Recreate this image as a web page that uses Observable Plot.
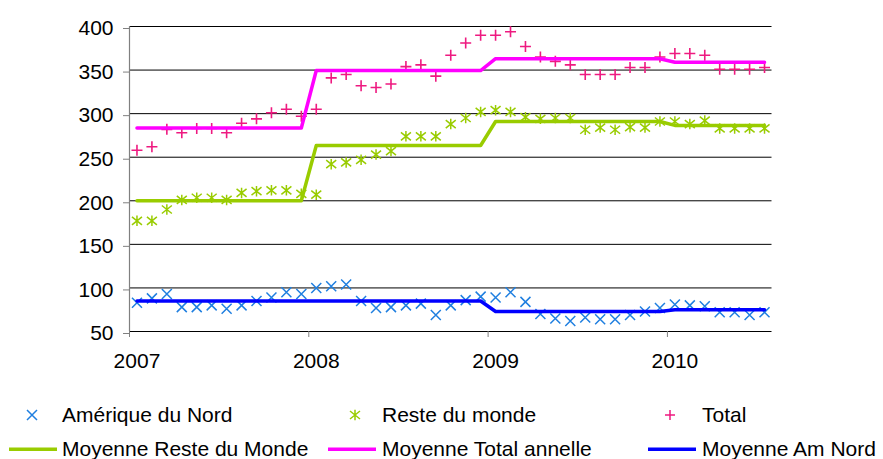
<!DOCTYPE html>
<html><head><meta charset="utf-8">
<script src="https://cdn.jsdelivr.net/npm/d3@7"></script>
<script src="https://cdn.jsdelivr.net/npm/@observablehq/plot@0.6"></script>
<style>
body{margin:0;background:#fff;font-family:"Liberation Sans",Arial,sans-serif;}
#wrap{position:relative;width:883px;height:459px;overflow:hidden;background:#fff;}
#legend{position:absolute;left:0;top:390px;}
</style></head><body><div id="wrap"><div id="chart"></div><div id="legend"></div></div>
<script>
const yearLabels = ["2007","2008","2009","2010"];
const yTicks = [50,100,150,200,250,300,350,400];

const ameriqueNord = [83,88,93,78,78,80,76,80,85,89,95,93,
  100,102,104,85,77,78,80,82,69,80,86,90,
  89,95,84,70,65,62,66,64,64,69,73,77,
  81,80,79,72,72,69,72];
const resteMonde = [177,177,190,201,203.5,203.5,201,209,211,212,212,208,
  207,242,244,247,253,257,274,274,274,288,295,302,
  304,302,296,294,295,295,281.5,284,281.5,284.5,284,291,
  291,288,292,283,283,283,283];
const total = [258,262,282,278,283,283,278,289,294,301,305,297,
  305,341,345,332,330,334,354,356,343,367,381,390,
  390,394,377,365,360,356,345,345,345,353,353,365,
  369,369,367,351,351,351,353];

const moyReste = [200,263.5,291,286.5];
const moyTotal = [283.5,349.5,363,359];
const moyAmNord = [85,85,73,75];

const data = ameriqueNord.map((v,i)=>({m:i+0.5, year:Math.floor(i/12), am:v, reste:resteMonde[i], total:total[i]}));

const cBlue = "#1f7fe0", cGreen = "#99cc00", cPink = "#ee1a80", cMag = "#ff00ff", cLineBlue = "#0000ff";

const symTimes = {draw(c,s){const r=Math.sqrt(s/Math.PI); c.moveTo(-r,-r);c.lineTo(r,r);c.moveTo(-r,r);c.lineTo(r,-r);}};
const symAst = {draw(c,s){const r=Math.sqrt(s/Math.PI); c.moveTo(-r,-r*0.8);c.lineTo(r,r*0.8);c.moveTo(-r,r*0.8);c.lineTo(r,-r*0.8);c.moveTo(0,-r*1.05);c.lineTo(0,r*1.05);}};
const symPlus = {draw(c,s){const r=Math.sqrt(s/Math.PI); c.moveTo(-r,0);c.lineTo(r,0);c.moveTo(0,-r);c.lineTo(0,r);}};

const chart = Plot.plot({
  width: 883, height: 390,
  marginLeft: 129, marginRight: 111.5, marginTop: 26, marginBottom: 59,
  x: {domain:[0,43], axis:null},
  y: {domain:[50,400], axis:null},
  style: {fontFamily:"'Liberation Sans', Arial, sans-serif", fontSize:"21px", color:"#000", background:"#fff", overflow:"visible"},
  marks: [
    Plot.ruleY(yTicks, {stroke:"#000", strokeWidth:1}),
    Plot.ruleX([0], {y1:50, y2:400, stroke:"#808080", strokeWidth:1.2}),
    Plot.axisY({ticks:yTicks, tickSize:6, tickPadding:10, stroke:"#808080", fontSize:21, dy:2, label:null}),
    Plot.axisX({ticks:[0,12,24,36], tickSize:6, stroke:"#808080", tickFormat:()=>"", label:null}),
    Plot.axisX({ticks:[0.5,12.5,24.5,36.5], tickSize:0, tickPadding:22, fontSize:21, tickFormat:d=>yearLabels[Math.floor(d/12)], label:null}),
    Plot.dot(data, {x:"m", y:"am", symbol:symTimes, r:5, fill:"none", stroke:cBlue, strokeWidth:1.5}),
    Plot.dot(data, {x:"m", y:"reste", symbol:symAst, r:5, fill:"none", stroke:cGreen, strokeWidth:1.5}),
    Plot.dot(data, {x:"m", y:"total", symbol:symPlus, r:5.5, fill:"none", stroke:cPink, strokeWidth:1.6}),
    Plot.line(data, {x:"m", y:d=>moyReste[d.year], stroke:cGreen, strokeWidth:3.5}),
    Plot.line(data, {x:"m", y:d=>moyTotal[d.year], stroke:cMag, strokeWidth:3.5}),
    Plot.line(data, {x:"m", y:d=>moyAmNord[d.year], stroke:cLineBlue, strokeWidth:3.5})
  ]
});
document.getElementById("chart").appendChild(chart);

// legend
const legendItems = [
  {label:"Amérique du Nord", kind:"dot", sym:symTimes, color:cBlue},
  {label:"Reste du monde", kind:"dot", sym:symAst, color:cGreen},
  {label:"Total", kind:"dot", sym:symPlus, color:cPink},
  {label:"Moyenne Reste du Monde", kind:"line", color:cGreen},
  {label:"Moyenne Total annelle", kind:"line", color:cMag},
  {label:"Moyenne Am Nord", kind:"line", color:cLineBlue}
];
const colMarker = [32, 355, 670];
const colLineX = [[9,57],[328,376],[648,696]];
const colText = [62, 382, 702];
const svg = d3.select("#legend").append("svg").attr("width",883).attr("height",69)
  .style("font-family","'Liberation Sans', Arial, sans-serif").style("font-size","21px");
legendItems.forEach((it,k)=>{
  const col = k%3, row = Math.floor(k/3);
  const base = row===0 ? 31.5 : 66;
  const mid = row===0 ? 25 : 59.3;
  if (it.kind==="dot") {
    svg.append("path").attr("transform",`translate(${colMarker[col]},${mid})`)
      .attr("d", d3.symbol(it.sym, Math.PI*25)()).attr("fill","none").attr("stroke",it.color).attr("stroke-width",1.5);
  } else {
    svg.append("line").attr("x1",colLineX[col][0]).attr("x2",colLineX[col][1]).attr("y1",mid).attr("y2",mid)
      .attr("stroke",it.color).attr("stroke-width",3.5);
  }
  svg.append("text").attr("x",colText[col]).attr("y",base).attr("fill","#000").text(it.label);
});
</script></body></html>
